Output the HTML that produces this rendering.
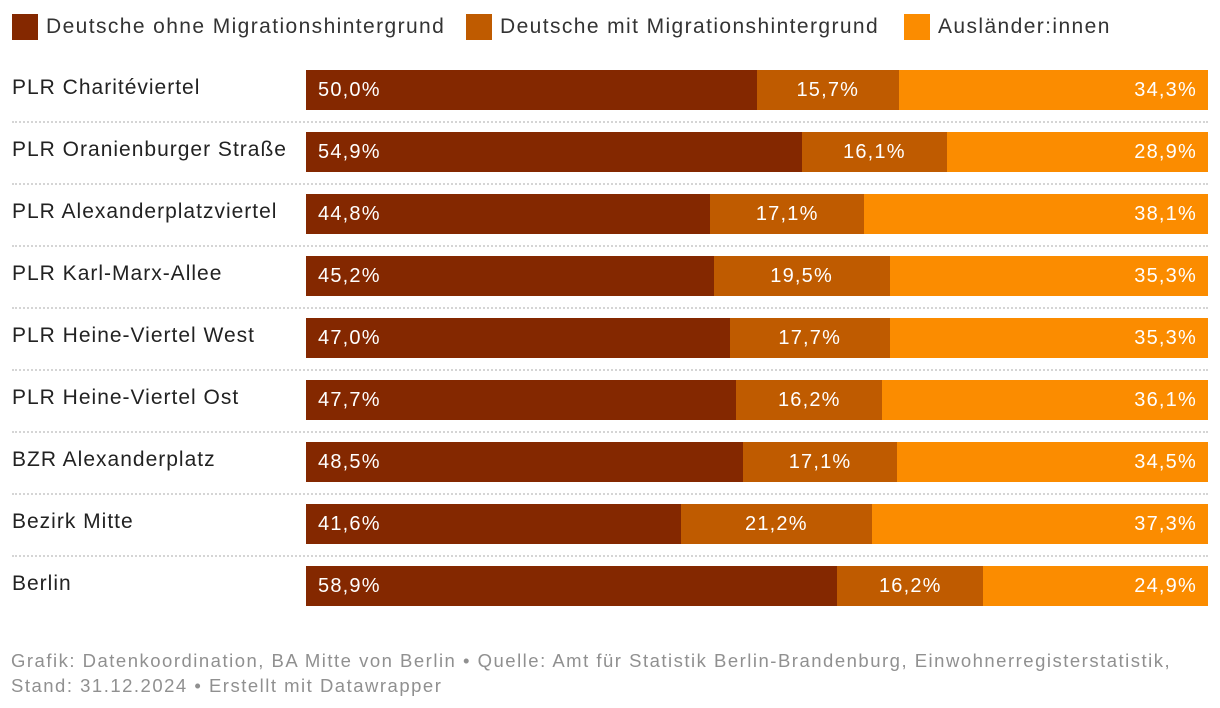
<!DOCTYPE html>
<html><head><meta charset="utf-8"><style>
body{margin:0;width:1220px;height:708px;background:#fff;font-family:"Liberation Sans",sans-serif;overflow:hidden;position:relative}
.leg{position:absolute;top:14px;font-size:21px;letter-spacing:1.4px;color:#333;display:flex;align-items:center}
.sw{width:26px;height:26px;margin-right:8px}
.lab{position:absolute;left:12px;font-size:21px;letter-spacing:1px;color:#222}
.seg{position:absolute;height:40px}
.val{position:absolute;font-size:20px;letter-spacing:1.2px;color:#fff;line-height:40px}
.sep{position:absolute;left:12px;width:1196px;border-top:2px dotted #d5d5d5}
.foot{position:absolute;left:11px;top:648px;font-size:18.5px;letter-spacing:1.5px;color:#909090;line-height:25px;white-space:nowrap}
</style></head><body>
<div class="leg" style="left:12px"><div class="sw" style="background:#842800"></div>Deutsche ohne Migrationshintergrund</div>
<div class="leg" style="left:466px"><div class="sw" style="background:#bf5b00"></div>Deutsche mit Migrationshintergrund</div>
<div class="leg" style="left:904px"><div class="sw" style="background:#fb8c00"></div>Ausländer:innen</div>
<div id="chart"></div>
<div class="foot">Grafik: Datenkoordination, BA Mitte von Berlin • Quelle: Amt für Statistik Berlin-Brandenburg, Einwohnerregisterstatistik,<br>Stand: 31.12.2024 • Erstellt mit Datawrapper</div>
<script>
const categories=["PLR Charitéviertel","PLR Oranienburger Straße","PLR Alexanderplatzviertel","PLR Karl-Marx-Allee","PLR Heine-Viertel West","PLR Heine-Viertel Ost","BZR Alexanderplatz","Bezirk Mitte","Berlin"];
const ohne=[50.0,54.9,44.8,45.2,47.0,47.7,48.5,41.6,58.9];
const mit=[15.7,16.1,17.1,19.5,17.7,16.2,17.1,21.2,16.2];
const ausl=[34.3,28.9,38.1,35.3,35.3,36.1,34.5,37.3,24.9];
const colors=["#842800","#bf5b00","#fb8c00"];
const X0=306,W=902,Y0=70,PITCH=62;
const c=document.getElementById('chart');
function xs(v,t){return v/t*W;}
categories.forEach((cat,i)=>{
  const y=Y0+i*PITCH;
  const l=document.createElement('div');l.className='lab';l.style.top=(y+6)+'px';l.textContent=cat;
  
  
  c.appendChild(l);
  const vals=[ohne[i],mit[i],ausl[i]];const tot=vals[0]+vals[1]+vals[2];
  let x=X0;
  vals.forEach((v,j)=>{
    const w=xs(v,tot);
    const s=document.createElement('div');s.className='seg';
    s.style.cssText=`left:${x}px;top:${y}px;width:${w}px;background:${colors[j]}`;
    
    
    c.appendChild(s);
    const t=document.createElement('div');t.className='val';t.style.top=y+'px';
    t.textContent=v.toFixed(1).replace('.',',')+'%';
    if(j==0){t.style.left=(x+12)+'px';}
    else if(j==1){t.style.left=x+'px';t.style.width=w+'px';t.style.textAlign='center';}
    else{t.style.left=x+'px';t.style.width=(w-11)+'px';t.style.textAlign='right';}
    
    
    c.appendChild(t);
    x+=w;
  });
  if(i<categories.length-1){
    const d=document.createElement('div');d.className='sep';d.style.top=(y+51)+'px';
    
    
    c.appendChild(d);
  }
});
</script>
</body></html>
